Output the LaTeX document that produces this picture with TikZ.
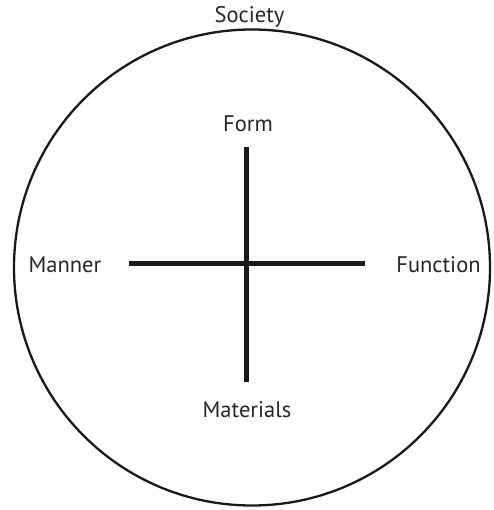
\documentclass[tikz,border=0pt]{standalone}
\usepackage{fontspec}
\setmainfont{PT Sans}
\begin{document}
\begin{tikzpicture}[x=1pt,y=-1pt,
  lbl/.style={inner sep=0pt,anchor=base,font=\fontsize{22.5}{26}\selectfont,text=black!85},
  bar/.style={line width=5pt,draw=black!90}]
\useasboundingbox (0,0) rectangle (493,510);
\node[draw=black!90,line width=2.3pt,circle,minimum size=476pt,inner sep=0pt] (soc) at (252,267.5) {};
\node[lbl] (society) at (249.5,23) {Society};
\node[lbl] (form) at (248,132) {Form};
\node[lbl] (manner) at (65,272) {Manner};
\node[lbl] (function) at (438.5,272) {Function};
\node[lbl] (materials) at (247,417) {Materials};
\coordinate (top) at (246,147);
\coordinate (bot) at (246,381.5);
\coordinate (lft) at (129,263.5);
\coordinate (rgt) at (365,263.5);
\draw[bar] (top) -- (bot);
\draw[bar] (lft) -- (rgt);
\end{tikzpicture}
\end{document}
